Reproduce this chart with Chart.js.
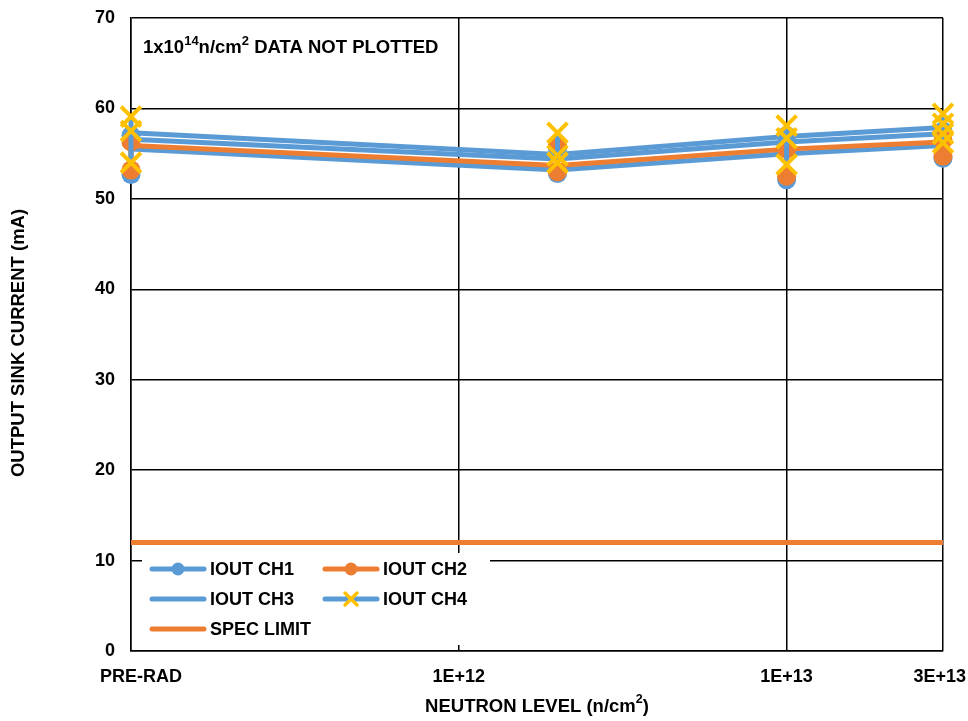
<!DOCTYPE html>
<html>
<head>
<meta charset="utf-8">
<script src="https://cdn.jsdelivr.net/npm/chart.js@4"></script>
<style>
  body { margin: 0; background: #fff; }
  canvas { display: block; }
</style>
</head>
<body>
<canvas id="chart" width="968" height="721"></canvas>
<script>
// neutron levels (PRE-RAD plotted at 1e11 on the log axis)
const levels = [1e11, 2e12, 1e13, 3e13];
const tickValues = [1e11, 1e12, 1e13, 3e13];
const tickLabels = ['PRE-RAD', '1E+12', '1E+13', '3E+13'];

// average lines per channel (mA)
const meanCh1 = [55.5, 53.2, 55.0, 55.9];
const meanCh2 = [55.9, 53.7, 55.5, 56.3];
const meanCh3 = [57.3, 54.9, 56.9, 57.9];
const meanCh4 = [56.6, 54.4, 56.3, 57.2];

// individual device readings per level
const devCh1 = [[57.0, 52.7], [55.5, 52.8], [57.0, 52.1], [57.5, 54.5]];
const devCh2 = [[56.3, 53.2], [56.0, 53.0], [55.5, 52.5], [56.5, 54.7]];
const devCh4 = [[59.1, 57.5, 54.0], [57.3, 54.8, 54.0], [58.1, 56.7, 53.8], [59.4, 58.3, 57.2, 56.2]];

const specLimit = 12;
const yTicks = [0, 10, 20, 30, 40, 50, 60, 70];

const BLUE = '#5B9BD5';
const ORANGE = '#ED7D31';
const YELLOW = '#FFC000';
const FAM = '"Liberation Sans", Arial, sans-serif';

function linePts(vals) {
    return levels.map((x, i) => ({ x: x, y: vals[i] }));
}
// groups of readings at the same level, joined vertically, broken between levels
function devPts(groups) {
    const out = [];
    groups.forEach((g, i) => {
        g.forEach(v => out.push({ x: levels[i], y: v }));
        out.push({ x: levels[i], y: null });
    });
    return out;
}

const lineBase = { borderWidth: 5, pointRadius: 0, fill: false, tension: 0, clip: false };

const datasets = [
    { ...lineBase, label: 'SPEC LIMIT', data: [{ x: 1e11, y: specLimit }, { x: 3e13, y: specLimit }], borderColor: ORANGE, order: 10 },
    { ...lineBase, label: 'mean CH1', data: linePts(meanCh1), borderColor: BLUE, order: 9 },
    { ...lineBase, label: 'mean CH2', data: linePts(meanCh2), borderColor: ORANGE, order: 8 },
    { ...lineBase, label: 'mean CH4', data: linePts(meanCh4), borderColor: BLUE, order: 7 },
    { ...lineBase, label: 'mean CH3', data: linePts(meanCh3), borderColor: BLUE, order: 6 },
    { label: 'IOUT CH1', data: devPts(devCh1), borderColor: BLUE, borderWidth: 5, clip: false,
      pointRadius: 9.5, pointBackgroundColor: BLUE, pointBorderColor: BLUE, pointBorderWidth: 0, order: 5 },
    { label: 'IOUT CH2', data: devPts(devCh2), borderColor: ORANGE, borderWidth: 5, clip: false,
      pointRadius: 9.5, pointBackgroundColor: ORANGE, pointBorderColor: ORANGE, pointBorderWidth: 0, order: 4 },
    { label: 'IOUT CH4', data: devPts(devCh4), borderColor: BLUE, borderWidth: 5, clip: false,
      pointStyle: 'crossRot', pointRadius: 14, pointBorderColor: YELLOW, pointBorderWidth: 4, order: 3 }
];

const extras = {
    id: 'extras',
    afterDraw(chart) {
        const ctx = chart.ctx;
        const xs = chart.scales.x;
        const W = chart.width;
        ctx.save();
        ctx.fillStyle = '#000';
        ctx.textBaseline = 'middle';

        // x tick labels, kept inside the canvas
        ctx.font = 'bold 18px ' + FAM;
        ctx.textAlign = 'center';
        tickValues.forEach((v, i) => {
            const w = ctx.measureText(tickLabels[i]).width;
            let px = xs.getPixelForValue(v);
            px = Math.max(px, 100 + w / 2);
            px = Math.min(px, W - 2 - w / 2);
            ctx.fillText(tickLabels[i], px, 677);
        });

        // axis titles
        const big = 'bold 18.5px ' + FAM;
        const sup = 'bold 12.5px ' + FAM;
        ctx.font = big;
        const cx = (xs.left + xs.right) / 2;
        const t1 = 'NEUTRON LEVEL (n/cm';
        const w1 = ctx.measureText(t1).width;
        const w3 = ctx.measureText(')').width;
        ctx.font = sup;
        const w2 = ctx.measureText('2').width;
        let sx = cx - (w1 + w2 + w3) / 2;
        ctx.textAlign = 'left';
        ctx.font = big;
        ctx.fillText(t1, sx, 707);
        ctx.fillText(')', sx + w1 + w2, 707);
        ctx.font = sup;
        ctx.fillText('2', sx + w1, 700);

        ctx.save();
        ctx.font = big;
        ctx.translate(19, 343);
        ctx.rotate(-Math.PI / 2);
        ctx.textAlign = 'center';
        ctx.fillText('OUTPUT SINK CURRENT (mA)', 0, 0);
        ctx.restore();

        // note in the plot
        const parts = [['1x10', 18.5, 0], ['14', 13, -7], ['n/cm', 18.5, 0], ['2', 13, -7], [' DATA NOT PLOTTED', 18.5, 0]];
        let nx = 143;
        ctx.textAlign = 'left';
        parts.forEach(p => {
            ctx.font = 'bold ' + p[1] + 'px ' + FAM;
            ctx.fillText(p[0], nx, 48 + p[2]);
            nx += ctx.measureText(p[0]).width;
        });

        // legend box
        ctx.fillStyle = '#fff';
        ctx.fillRect(142, 553, 348, 92);
        const items = [
            ['IOUT CH1', BLUE, 'circle', BLUE, 152, 569],
            ['IOUT CH2', ORANGE, 'circle', ORANGE, 325, 569],
            ['IOUT CH3', BLUE, null, null, 152, 599],
            ['IOUT CH4', BLUE, 'x', YELLOW, 325, 599],
            ['SPEC LIMIT', ORANGE, null, null, 152, 629]
        ];
        ctx.lineCap = 'round';
        items.forEach(it => {
            const [txt, col, mk, mcol, lx, ly] = it;
            ctx.strokeStyle = col;
            ctx.lineWidth = 5;
            ctx.beginPath();
            ctx.moveTo(lx, ly);
            ctx.lineTo(lx + 52, ly);
            ctx.stroke();
            const mx = lx + 26;
            if (mk === 'circle') {
                ctx.fillStyle = mcol;
                ctx.beginPath();
                ctx.arc(mx, ly, 6.5, 0, Math.PI * 2);
                ctx.fill();
            } else if (mk === 'x') {
                ctx.strokeStyle = mcol;
                ctx.lineWidth = 3.5;
                ctx.beginPath();
                ctx.moveTo(mx - 6, ly - 6); ctx.lineTo(mx + 6, ly + 6);
                ctx.moveTo(mx + 6, ly - 6); ctx.lineTo(mx - 6, ly + 6);
                ctx.stroke();
            }
            ctx.fillStyle = '#000';
            ctx.font = 'bold 18px ' + FAM;
            ctx.fillText(txt, lx + 58, ly + 1);
        });
        ctx.restore();
    }
};

new Chart(document.getElementById('chart'), {
    type: 'line',
    data: { datasets: datasets },
    options: {
        responsive: false,
        animation: false,
        spanGaps: false,
        layout: { padding: { top: 15, right: 25, left: 0, bottom: 0 } },
        plugins: { legend: { display: false }, tooltip: { enabled: false } },
        scales: {
            x: {
                type: 'logarithmic',
                min: 1e11,
                max: 3e13,
                afterBuildTicks(scale) { scale.ticks = tickValues.map(v => ({ value: v })); },
                afterFit(scale) { scale.height = 70; scale.paddingLeft = 0; scale.paddingRight = 0; },
                ticks: { display: false },
                grid: { color: '#000', lineWidth: 1.5, drawTicks: false },
                border: { color: '#000', width: 1.5 }
            },
            y: {
                min: 0,
                max: 70,
                afterBuildTicks(scale) { scale.ticks = yTicks.map(v => ({ value: v })); },
                afterFit(scale) { scale.width = 131; scale.paddingTop = 0; scale.paddingBottom = 0; },
                ticks: { color: '#000', font: { family: FAM, size: 18, weight: 'bold' }, padding: 16 },
                grid: { color: '#000', lineWidth: 1.5, drawTicks: false },
                border: { color: '#000', width: 1.5 }
            }
        }
    },
    plugins: [extras]
});
</script>
</body>
</html>
